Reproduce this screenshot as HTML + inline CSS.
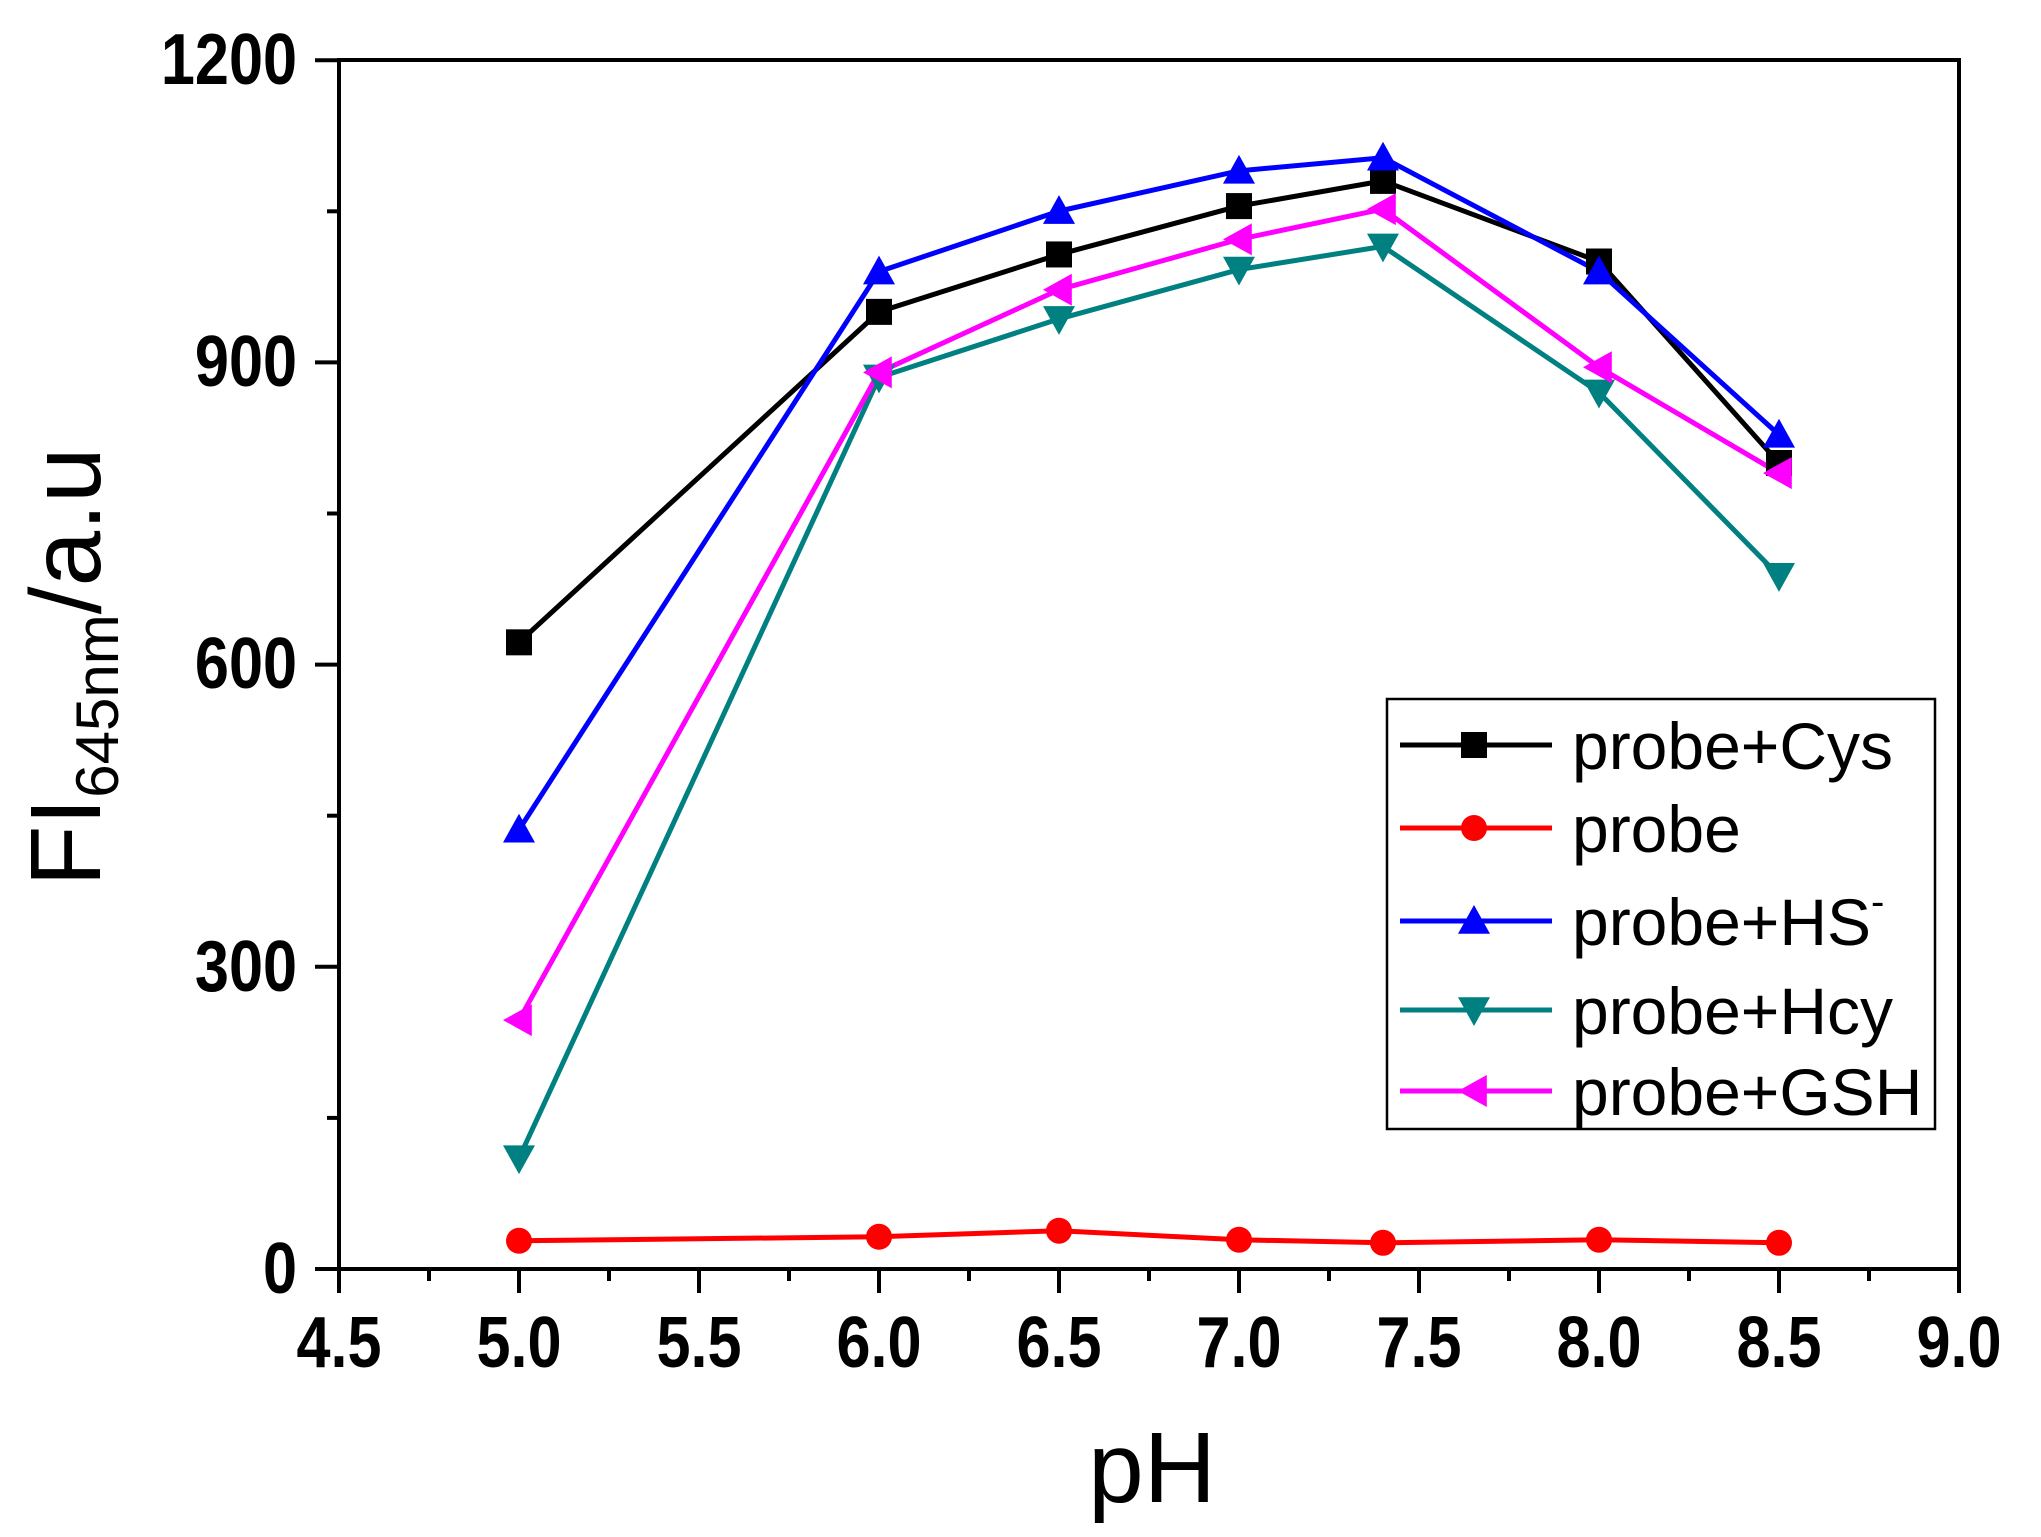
<!DOCTYPE html>
<html><head><meta charset="utf-8"><style>html,body{margin:0;padding:0;background:#fff}svg{display:block}</style></head>
<body>
<svg id="s" width="2041" height="1537" xmlns="http://www.w3.org/2000/svg" font-family="Liberation Sans, Arial, sans-serif">
<rect width="2041" height="1537" fill="#fff"/>
<g id="data"></g>
<rect x="339" y="60" width="1620" height="1209" fill="none" stroke="#000" stroke-width="4"/>
<g id="ticks" stroke="#000" stroke-width="4"></g>
<g id="ylab" font-weight="bold" font-size="72" fill="#000" text-anchor="end">
<text transform="translate(297,84) scale(0.85,1)">1200</text>
<text transform="translate(297,386) scale(0.85,1)">900</text>
<text transform="translate(297,688) scale(0.85,1)">600</text>
<text transform="translate(297,991) scale(0.85,1)">300</text>
<text transform="translate(297,1293) scale(0.85,1)">0</text>
</g>
<g font-weight="bold" font-size="72" fill="#000" text-anchor="middle">
<text transform="translate(339,1367) scale(0.85,1)">4.5</text>
<text transform="translate(519,1367) scale(0.85,1)">5.0</text>
<text transform="translate(699,1367) scale(0.85,1)">5.5</text>
<text transform="translate(879,1367) scale(0.85,1)">6.0</text>
<text transform="translate(1059,1367) scale(0.85,1)">6.5</text>
<text transform="translate(1239,1367) scale(0.85,1)">7.0</text>
<text transform="translate(1419,1367) scale(0.85,1)">7.5</text>
<text transform="translate(1599,1367) scale(0.85,1)">8.0</text>
<text transform="translate(1779,1367) scale(0.85,1)">8.5</text>
<text transform="translate(1959,1367) scale(0.85,1)">9.0</text>
</g>
<text x="1152" y="1502" font-size="100" text-anchor="middle">pH</text>
<text transform="translate(100,667) rotate(-90)" font-size="100" text-anchor="middle">FI<tspan font-size="60" dy="18">645nm</tspan><tspan dy="-18">/a.u</tspan></text>
<rect x="1387" y="699" width="548" height="430" fill="#fff" stroke="#000" stroke-width="2.5"/>
<g id="leg"></g>
<g font-size="66" fill="#000">
<text x="1572" y="769">probe+Cys</text>
<text x="1572" y="852">probe</text>
<text x="1572" y="945">probe+HS<tspan font-size="40" dy="-30">-</tspan></text>
<text x="1572" y="1034">probe+Hcy</text>
<text x="1572" y="1115">probe+GSH</text>
</g>
</svg>
<script>
const NS="http://www.w3.org/2000/svg";
function el(p,t,a){const e=document.createElementNS(NS,t);for(const k in a)e.setAttribute(k,a[k]);p.appendChild(e);return e;}
const X=v=>339+(v-4.5)*360, Y=v=>1269-v*1.0075;
const T=document.getElementById('ticks');
for(let i=0;i<=18;i++){const x=339+i*90;el(T,'line',{x1:x,y1:1269,x2:x,y2:1269+(i%2?12:24)});}
for(let i=0;i<=8;i++){const y=1269-i*151.1;el(T,'line',{x1:339,y1:y,x2:339-(i%2?12:24),y2:y});}
const xs=[5,6,6.5,7,7.4,8,8.5];
const S=[
 {c:'#000',m:'sq',d:[622,950,1007,1055,1080,1000,800]},
 {c:'#f00',m:'ci',d:[28,32,38,29,26,29,26]},
 {c:'#00f',m:'up',d:[436,990,1050,1090,1103,990,828]},
 {c:'#008080',m:'dn',d:[110,885,943,992,1015,870,688]},
 {c:'#f0f',m:'lf',d:[247,890,972,1022,1052,895,790]}
];
function mk(g,m,x,y,c){
 const r=16;
 if(m==='sq')el(g,'rect',{x:x-13,y:y-13,width:26,height:26,fill:c});
 else if(m==='ci')el(g,'circle',{cx:x,cy:y,r:13,fill:c});
 else if(m==='up')el(g,'polygon',{points:`${x},${y-r} ${x-r},${y+r*0.8} ${x+r},${y+r*0.8}`,fill:c});
 else if(m==='dn')el(g,'polygon',{points:`${x},${y+r} ${x-r},${y-r*0.8} ${x+r},${y-r*0.8}`,fill:c});
 else el(g,'polygon',{points:`${x-r},${y} ${x+r*0.8},${y-r} ${x+r*0.8},${y+r}`,fill:c});
}
const D=document.getElementById('data'),L=document.getElementById('leg');
const ly=[745,828,921,1010,1091];
S.forEach((s,i)=>{
 el(D,'polyline',{points:xs.map((x,j)=>X(x)+','+Y(s.d[j])).join(' '),fill:'none',stroke:s.c,'stroke-width':5,'stroke-linejoin':'round'});
});
S.forEach((s,i)=>{
 xs.forEach((x,j)=>mk(D,s.m,X(x),Y(s.d[j]),s.c));
 el(L,'line',{x1:1400,y1:ly[i],x2:1552,y2:ly[i],stroke:s.c,'stroke-width':5});
 mk(L,s.m,1474,ly[i],s.c);
});
</script>
</body></html>
